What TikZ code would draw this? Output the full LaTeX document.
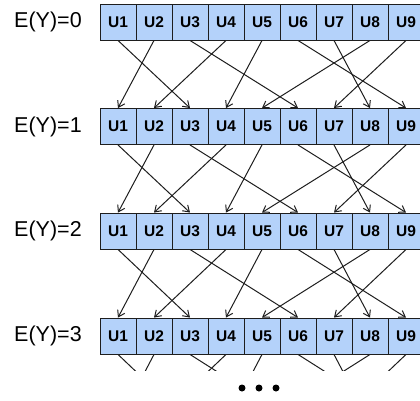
\documentclass[tikz,border=0pt]{standalone}
\usepackage{fontspec}
\setmainfont{Liberation Sans}
\usetikzlibrary{arrows.meta}
\pgfdeclarelayer{edgelayer}
\pgfdeclarelayer{nodelayer}
\pgfsetlayers{edgelayer,nodelayer,main}
\definecolor{cellblue}{RGB}{180,210,250}
\definecolor{inkgray}{RGB}{30,30,30}
\tikzstyle{edge}=[draw=inkgray, line width=1pt, -{Straight Barb[length=6pt,width=8pt]}]
\tikzstyle{stub}=[draw=inkgray, line width=1pt]
\tikzstyle{cell}=[rectangle, draw=inkgray, line width=0.9pt, fill=cellblue, minimum width=36pt, minimum height=36pt, inner sep=0pt, font=\fontsize{15.5}{16}\selectfont\bfseries]
\tikzstyle{level}=[inner sep=0pt, font=\fontsize{21.5}{22}\selectfont]
\tikzstyle{dot}=[circle, fill=black, inner sep=0pt, minimum size=7pt]

\begin{document}
\begin{tikzpicture}[x=1pt, y=-1pt]
				\clip (0, 0) rectangle (420, 400);
				\begin{pgfonlayer}{nodelayer}
					\node [style=level] (0) at (48, 22) {E(Y)=0};
					\node [style=level] (1) at (48, 126.5) {E(Y)=1};
					\node [style=level] (2) at (48, 231) {E(Y)=2};
					\node [style=level] (3) at (48, 336) {E(Y)=3};
					% E(Y)=0
					\node [style=cell] (01) at (118, 22) {U1};
					\node [style=cell] (02) at (154, 22) {U2};
					\node [style=cell] (03) at (190, 22) {U3};
					\node [style=cell] (04) at (226, 22) {U4};
					\node [style=cell] (05) at (262, 22) {U5};
					\node [style=cell] (06) at (298, 22) {U6};
					\node [style=cell] (07) at (334, 22) {U7};
					\node [style=cell] (08) at (370, 22) {U8};
					\node [style=cell] (09) at (406, 22) {U9};
					% E(Y)=1
					\node [style=cell] (11) at (118, 126.5) {U1};
					\node [style=cell] (12) at (154, 126.5) {U2};
					\node [style=cell] (13) at (190, 126.5) {U3};
					\node [style=cell] (14) at (226, 126.5) {U4};
					\node [style=cell] (15) at (262, 126.5) {U5};
					\node [style=cell] (16) at (298, 126.5) {U6};
					\node [style=cell] (17) at (334, 126.5) {U7};
					\node [style=cell] (18) at (370, 126.5) {U8};
					\node [style=cell] (19) at (406, 126.5) {U9};
					% E(Y)=2
					\node [style=cell] (21) at (118, 231) {U1};
					\node [style=cell] (22) at (154, 231) {U2};
					\node [style=cell] (23) at (190, 231) {U3};
					\node [style=cell] (24) at (226, 231) {U4};
					\node [style=cell] (25) at (262, 231) {U5};
					\node [style=cell] (26) at (298, 231) {U6};
					\node [style=cell] (27) at (334, 231) {U7};
					\node [style=cell] (28) at (370, 231) {U8};
					\node [style=cell] (29) at (406, 231) {U9};
					% E(Y)=3
					\node [style=cell] (31) at (118, 336) {U1};
					\node [style=cell] (32) at (154, 336) {U2};
					\node [style=cell] (33) at (190, 336) {U3};
					\node [style=cell] (34) at (226, 336) {U4};
					\node [style=cell] (35) at (262, 336) {U5};
					\node [style=cell] (36) at (298, 336) {U6};
					\node [style=cell] (37) at (334, 336) {U7};
					\node [style=cell] (38) at (370, 336) {U8};
					\node [style=cell] (39) at (406, 336) {U9};
					% next level, only its top edge
					\coordinate (41) at (118, 423);
					\coordinate (42) at (154, 423);
					\coordinate (43) at (190, 423);
					\coordinate (44) at (226, 423);
					\coordinate (45) at (262, 423);
					\coordinate (46) at (298, 423);
					\coordinate (47) at (334, 423);
					\coordinate (48) at (370, 423);
					\coordinate (49) at (406, 423);
					\node [style=dot] (d1) at (242, 388) {};
					\node [style=dot] (d2) at (259, 388) {};
					\node [style=dot] (d3) at (276, 388) {};
				\end{pgfonlayer}
				\begin{pgfonlayer}{edgelayer}
					\draw [style=edge] (01.south) to (13.north);
					\draw [style=edge] (02.south) to (11.north);
					\draw [style=edge] (03.south) to (16.north);
					\draw [style=edge] (04.south) to (12.north);
					\draw [style=edge] (05.south) to (14.north);
					\draw [style=edge] (06.south) to (19.north);
					\draw [style=edge] (07.south) to (18.north);
					\draw [style=edge] (08.south) to (15.north);
					\draw [style=edge] (09.south) to (17.north);
					\draw [style=edge] (11.south) to (23.north);
					\draw [style=edge] (12.south) to (21.north);
					\draw [style=edge] (13.south) to (26.north);
					\draw [style=edge] (14.south) to (22.north);
					\draw [style=edge] (15.south) to (24.north);
					\draw [style=edge] (16.south) to (29.north);
					\draw [style=edge] (17.south) to (28.north);
					\draw [style=edge] (18.south) to (25.north);
					\draw [style=edge] (19.south) to (27.north);
					\draw [style=edge] (21.south) to (33.north);
					\draw [style=edge] (22.south) to (31.north);
					\draw [style=edge] (23.south) to (36.north);
					\draw [style=edge] (24.south) to (32.north);
					\draw [style=edge] (25.south) to (34.north);
					\draw [style=edge] (26.south) to (39.north);
					\draw [style=edge] (27.south) to (38.north);
					\draw [style=edge] (28.south) to (35.north);
					\draw [style=edge] (29.south) to (37.north);
					\begin{scope}
						\clip (0, 354) rectangle (420, 370);
						\draw [style=stub] (31.south) to (43);
						\draw [style=stub] (32.south) to (41);
						\draw [style=stub] (33.south) to (46);
						\draw [style=stub] (34.south) to (42);
						\draw [style=stub] (35.south) to (44);
						\draw [style=stub] (36.south) to (49);
						\draw [style=stub] (37.south) to (48);
						\draw [style=stub] (38.south) to (45);
						\draw [style=stub] (39.south) to (47);
					\end{scope}
				\end{pgfonlayer}
			\end{tikzpicture}
\end{document}
